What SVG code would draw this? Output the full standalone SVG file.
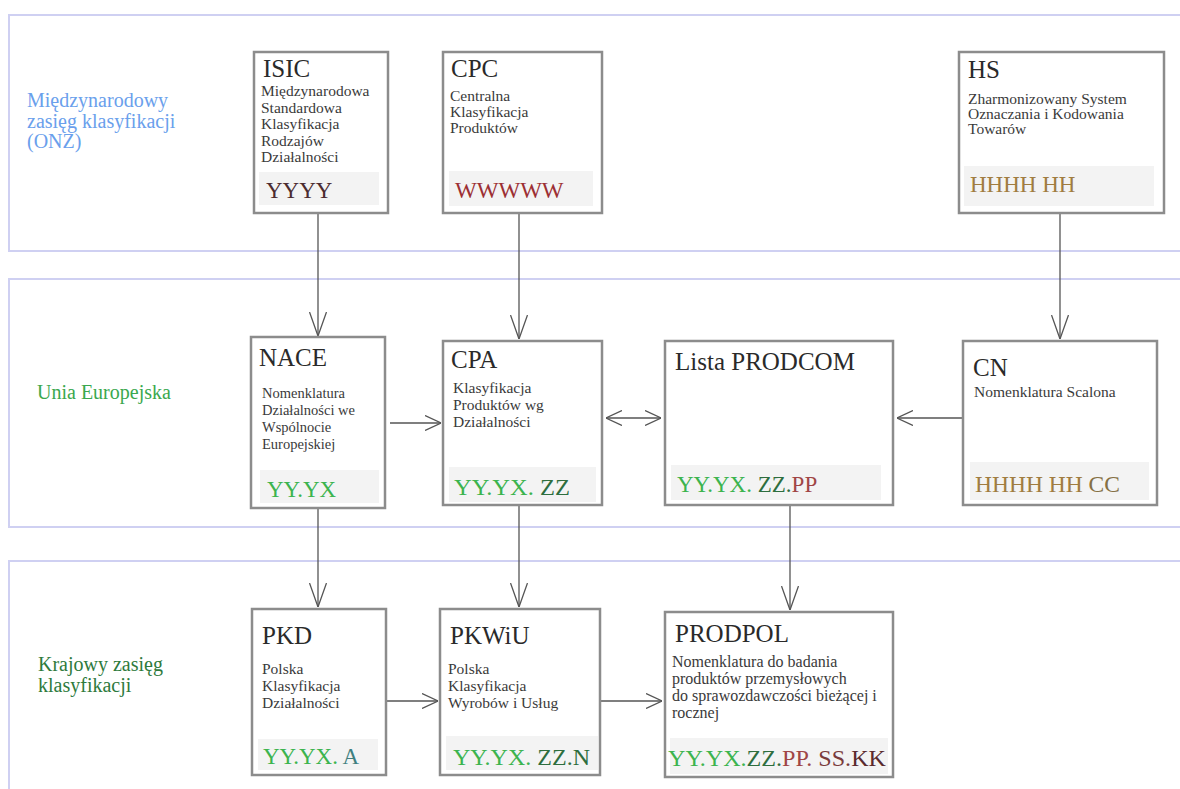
<svg xmlns="http://www.w3.org/2000/svg" width="1180" height="789" viewBox="0 0 1180 789">
<defs>
<style>
.band{fill:none;stroke:#cfd0f2;stroke-width:2}
.box{fill:#fff;stroke:#8c8c8c;stroke-width:2.5}
.bar{fill:#f3f3f3}
.t{font-family:'Liberation Serif','Times New Roman','DejaVu Serif',serif;fill:#2a2a2a}
.title{font-size:25px}
.d{font-size:15.5px;fill:#3a3a3a}
.code{font-size:23px}
.lab{font-family:'Liberation Serif','Times New Roman','DejaVu Serif',serif;font-size:20px}
.con{fill:none;stroke:#555;stroke-width:1.3}
.g1{fill:#3cb44e}.g2{fill:#2e6e3e}.r1{fill:#a04545}.r2{fill:#7a3b3b}.r3{fill:#5a2a2e}
.gold{fill:#a07c40}.olive{fill:#857044}.teal{fill:#3f7f80}.yy{fill:#4c2c30}.ww{fill:#9c2f33}
</style>
<marker id="mv" viewBox="0 0 24 18" refX="24" refY="9" markerWidth="24" markerHeight="18" markerUnits="userSpaceOnUse" orient="auto-start-reverse">
<path d="M0,0.5 L24,9 L0,17.5" fill="none" stroke="#555" stroke-width="1.3"/>
</marker>
<marker id="mh" viewBox="0 0 16 16" refX="16" refY="8" markerWidth="16" markerHeight="16" markerUnits="userSpaceOnUse" orient="auto-start-reverse">
<path d="M0,0.5 L16,8 L0,15.5" fill="none" stroke="#555" stroke-width="1.3"/>
</marker>
</defs>
<rect width="1180" height="789" fill="#fff"/>
<g id="bands">
<path class="band" d="M1185,15 H9 V251 H1185"/>
<path class="band" d="M1185,279 H9 V527 H1185"/>
<path class="band" d="M1185,561 H9 V800"/>
<text class="lab" fill="#6aa0ec" x="27" y="107">Międzynarodowy</text>
<text class="lab" fill="#6aa0ec" x="27" y="127.5">zasięg klasyfikacji</text>
<text class="lab" fill="#6aa0ec" x="27" y="148">(ONZ)</text>
<text class="lab" fill="#3aa84e" x="37" y="399">Unia Europejska</text>
<text class="lab" fill="#2e7a3c" x="38" y="671">Krajowy zasięg</text>
<text class="lab" fill="#2e7a3c" x="38" y="692">klasyfikacji</text>
</g>
<g id="connectors">
<line class="con" x1="318" y1="213" x2="318" y2="336" marker-end="url(#mv)"/>
<line class="con" x1="519" y1="213" x2="519" y2="339" marker-end="url(#mv)"/>
<line class="con" x1="1060" y1="213" x2="1060" y2="339" marker-end="url(#mv)"/>
<line class="con" x1="390" y1="423" x2="441" y2="423" marker-end="url(#mh)"/>
<line class="con" x1="606" y1="418" x2="661" y2="418" marker-start="url(#mh)" marker-end="url(#mh)"/>
<line class="con" x1="962" y1="418" x2="897" y2="418" marker-end="url(#mh)"/>
<line class="con" x1="318" y1="508" x2="318" y2="607" marker-end="url(#mv)"/>
<line class="con" x1="519" y1="505" x2="519" y2="607" marker-end="url(#mv)"/>
<line class="con" x1="790" y1="505" x2="790" y2="610" marker-end="url(#mv)"/>
<line class="con" x1="386" y1="701" x2="438" y2="701" marker-end="url(#mh)"/>
<line class="con" x1="600" y1="701" x2="662" y2="701" marker-end="url(#mh)"/>
</g>
<g id="isic">
<rect class="box" x="254" y="52" width="134" height="161"/>
<rect class="bar" x="259" y="172" width="120" height="33"/>
<text class="t title" x="263" y="77">ISIC</text>
<text class="t d"><tspan x="261" y="96">Międzynarodowa</tspan><tspan x="261" y="112.5">Standardowa</tspan><tspan x="261" y="129">Klasyfikacja</tspan><tspan x="261" y="145.5">Rodzajów</tspan><tspan x="261" y="162">Działalności</tspan></text>
<text class="t code yy" x="266" y="198">YYYY</text>
</g>
<g id="cpc">
<rect class="box" x="443" y="52" width="159" height="161"/>
<rect class="bar" x="449" y="171" width="144" height="35"/>
<text class="t title" x="451" y="77">CPC</text>
<text class="t d"><tspan x="450" y="101">Centralna</tspan><tspan x="450" y="117">Klasyfikacja</tspan><tspan x="450" y="133">Produktów</tspan></text>
<text class="t code ww" x="455" y="198">WWWWW</text>
</g>
<g id="hs">
<rect class="box" x="959" y="52" width="205" height="161"/>
<rect class="bar" x="964" y="166" width="190" height="40"/>
<text class="t title" x="968" y="78">HS</text>
<text class="t d"><tspan x="968" y="104">Zharmonizowany System</tspan><tspan x="968" y="119">Oznaczania i Kodowania</tspan><tspan x="968" y="134">Towarów</tspan></text>
<text class="t code gold" x="970" y="192">HHHH HH</text>
</g>
<g id="nace">
<rect class="box" x="251" y="337" width="134" height="171"/>
<rect class="bar" x="260" y="470" width="119" height="33"/>
<text class="t title" x="259" y="366">NACE</text>
<text class="t d" style="font-size:14.5px"><tspan x="262" y="398">Nomenklatura</tspan><tspan x="262" y="415">Działalności we</tspan><tspan x="262" y="432">Wspólnocie</tspan><tspan x="262" y="449">Europejskiej</tspan></text>
<text class="t code g1" x="267" y="497">YY.YX</text>
</g>
<g id="cpa">
<rect class="box" x="443" y="341" width="159" height="164"/>
<rect class="bar" x="449" y="467" width="147" height="35"/>
<text class="t title" x="451" y="368">CPA</text>
<text class="t d"><tspan x="453" y="393">Klasyfikacja</tspan><tspan x="453" y="410">Produktów wg</tspan><tspan x="453" y="427">Działalności</tspan></text>
<text class="t code" x="454" y="495" textLength="116" lengthAdjust="spacingAndGlyphs"><tspan class="g1">YY.YX. </tspan><tspan class="g2">ZZ</tspan></text>
</g>
<g id="prodcom">
<rect class="box" x="665" y="341" width="228" height="164"/>
<rect class="bar" x="671" y="465" width="210" height="35"/>
<text class="t title" x="675" y="370">Lista PRODCOM</text>
<text class="t code" x="677" y="492"><tspan class="g1">YY.YX. </tspan><tspan class="g2">ZZ.</tspan><tspan class="r1">PP</tspan></text>
</g>
<g id="cn">
<rect class="box" x="963" y="341" width="194" height="164"/>
<rect class="bar" x="970" y="462" width="179" height="38"/>
<text class="t title" x="973" y="376">CN</text>
<text class="t d" x="974" y="397">Nomenklatura Scalona</text>
<text class="t code" x="975" y="492" textLength="145" lengthAdjust="spacingAndGlyphs"><tspan class="gold">HHHH HH </tspan><tspan class="olive">CC</tspan></text>
</g>
<g id="pkd">
<rect class="box" x="252" y="609" width="134" height="166"/>
<rect class="bar" x="258" y="739" width="120" height="31"/>
<text class="t title" x="262" y="644">PKD</text>
<text class="t d"><tspan x="262" y="674">Polska</tspan><tspan x="262" y="691">Klasyfikacja</tspan><tspan x="262" y="708">Działalności</tspan></text>
<text class="t code" x="263" y="764"><tspan class="g1">YY.YX.</tspan><tspan class="teal"> A</tspan></text>
</g>
<g id="pkwiu">
<rect class="box" x="440" y="609" width="160" height="166"/>
<rect class="bar" x="446" y="736" width="152" height="34"/>
<text class="t title" x="450" y="644">PKWiU</text>
<text class="t d"><tspan x="448" y="674">Polska</tspan><tspan x="448" y="691">Klasyfikacja</tspan><tspan x="448" y="708">Wyrobów i Usług</tspan></text>
<text class="t code" x="453" y="765" textLength="137" lengthAdjust="spacingAndGlyphs"><tspan class="g1">YY.YX. </tspan><tspan class="g2">ZZ.N</tspan></text>
</g>
<g id="prodpol">
<rect class="box" x="665" y="612" width="228" height="165"/>
<rect class="bar" x="670" y="738" width="218" height="36"/>
<text class="t title" x="675" y="642">PRODPOL</text>
<text class="t d" style="font-size:16px"><tspan x="672" y="667">Nomenklatura do badania</tspan><tspan x="672" y="684">produktów przemysłowych</tspan><tspan x="672" y="701">do sprawozdawczości bieżącej i</tspan><tspan x="672" y="718">rocznej</tspan></text>
<text class="t code" x="668" y="766" textLength="218" lengthAdjust="spacingAndGlyphs"><tspan class="g1">YY.YX.</tspan><tspan class="g2">ZZ.</tspan><tspan class="r1">PP.</tspan><tspan class="r2"> SS.</tspan><tspan class="r3">KK</tspan></text>
</g>
</svg>
